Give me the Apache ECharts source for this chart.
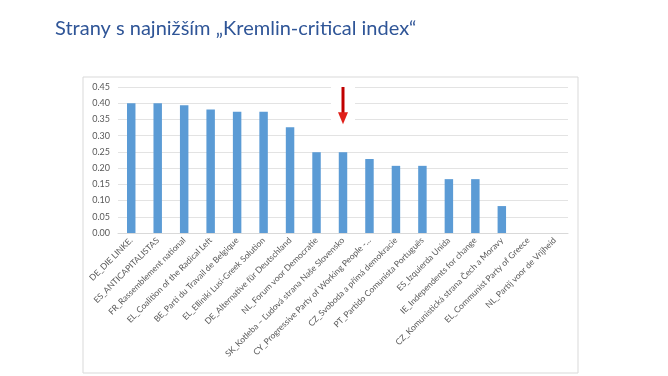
<!DOCTYPE html>
<html>
<head>
<meta charset="utf-8">
<script src="https://cdn.jsdelivr.net/npm/echarts@6/dist/echarts.min.js"></script>
<style>
  html, body { margin: 0; padding: 0; background: #fff; }
  #main { width: 668px; height: 376px; }
</style>
</head>
<body>
<div id="main"></div>
<script>
// party names, as they appear under the bars
var parties = [
  "DE_DIE LINKE.",
  "ES_ANTICAPITALISTAS",
  "FR_Rassemblement national",
  "EL_Coalition of the Radical Left",
  "BE_Parti du Travail de Belgique",
  "EL_Elliniki Lusi-Greek Solution",
  "DE_Alternative für Deutschland",
  "NL_Forum voor Democratie",
  "SK_Kotleba – Ľudová strana Naše Slovensko",
  "CY_Progressive Party of Working People -...",
  "CZ_Svoboda a přímá demokracie",
  "PT_Partido Comunista Português",
  "ES_Izquierda Unida",
  "IE_Independents for change",
  "CZ_Komunistická strana Čech a Moravy",
  "EL_Communist Party of Greece",
  "NL_Partij voor de Vrijheid"
];

// Kremlin-critical index
var indexValues = [0.400, 0.400, 0.394, 0.381, 0.374, 0.374, 0.326, 0.249, 0.249,
  0.228, 0.207, 0.207, 0.166, 0.166, 0.083, 0, 0];

var yTicks = [0, 0.05, 0.10, 0.15, 0.20, 0.25, 0.30, 0.35, 0.40, 0.45];

// the arrow points at this party, from the top of the scale down to this value
var arrowParty = "SK_Kotleba – Ľudová strana Naše Slovensko";
var arrowRange = [0.45, 0.335];

var chart = echarts.init(document.getElementById("main"));

var option = {
  animation: false,
  title: {
    text: "Strany s najnižším „Kremlin-critical index“",
    left: 50,
    top: 14,
    textStyle: {
      fontFamily: "Lato",
      fontWeight: "normal",
      fontSize: 20,
      color: "#2f5597"
    }
  },
  grid: { left: 118, right: 100, top: 87, bottom: 143 },
  xAxis: {
    type: "category",
    data: parties,
    axisLine: { lineStyle: { color: "#d9d9d9" } },
    axisTick: { show: false },
    axisLabel: {
      rotate: 45,
      interval: 0,
      margin: 6,
      fontFamily: "Lato",
      fontSize: 8.5,
      color: "#595959"
    }
  },
  yAxis: {
    type: "value",
    min: yTicks[0],
    max: yTicks[yTicks.length - 1],
    interval: 0.05,
    axisLine: { show: false },
    axisTick: { show: false },
    splitLine: { lineStyle: { color: "#e3e3e3" } },
    axisLabel: {
      formatter: function (v) { return v.toFixed(2); },
      fontFamily: "Lato",
      fontSize: 9,
      color: "#595959",
      margin: 8
    }
  },
  series: [{
    type: "bar",
    data: indexValues,
    barWidth: "32%",
    itemStyle: { color: "#5b9bd5" }
  }]
};
chart.setOption(option);

// frame around the chart and the red arrow, placed through the axes
var arrowTop = chart.convertToPixel({ xAxisIndex: 0, yAxisIndex: 0 }, [arrowParty, arrowRange[0]]);
var arrowTip = chart.convertToPixel({ xAxisIndex: 0, yAxisIndex: 0 }, [arrowParty, arrowRange[1]]);
var ax = arrowTop[0];

chart.setOption({
  graphic: [
    {
      type: "rect",
      shape: { x: 83, y: 77, width: 495, height: 296 },
      style: { fill: "none", stroke: "#d9d9d9", lineWidth: 1 },
      z: -1
    },
    {
      type: "rect",
      shape: { x: ax - 12, y: arrowTop[1] - 3, width: 24, height: arrowTip[1] - arrowTop[1] + 6 },
      style: { fill: "#fff" },
      z: 10
    },
    {
      type: "rect",
      shape: { x: ax - 1.5, y: arrowTop[1], width: 3, height: arrowTip[1] - arrowTop[1] - 10 },
      style: { fill: "#c00000" },
      z: 11
    },
    {
      type: "polygon",
      shape: { points: [[ax - 5, arrowTip[1] - 12], [ax + 5, arrowTip[1] - 12], [ax, arrowTip[1]]] },
      style: { fill: "#e0201a" },
      z: 11
    }
  ]
});
</script>
</body>
</html>
